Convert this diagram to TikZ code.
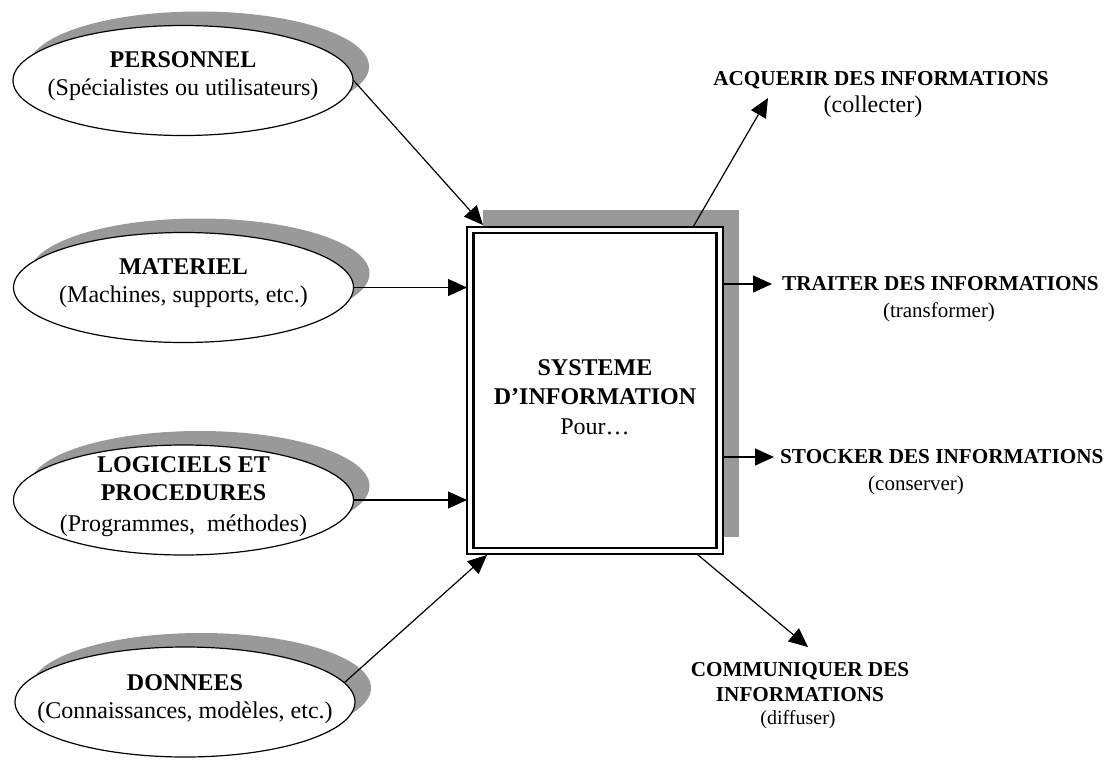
\documentclass[tikz,border=0pt]{standalone}
\usepackage{fontspec}
\setmainfont{Liberation Serif}
\usetikzlibrary{arrows.meta,shapes.geometric,shadows,calc}

\begin{document}
\begin{tikzpicture}[x=1pt,y=-1pt,
  shadowgray/.style={fill=black!40, opacity=1},
  ressource/.style={ellipse, draw, line width=1.2pt, fill=white,
    minimum width=340pt, minimum height=110pt, inner sep=0pt,
    drop shadow={shadow xshift=16pt, shadow yshift=14pt, shadowgray}},
  restext/.style={align=center, inner sep=0pt, font=\fontsize{24}{28}\selectfont},
  sysbox/.style={rectangle, draw, line width=2pt, fill=white, outer sep=0pt,
    minimum width=256pt, minimum height=327pt,
    drop shadow={shadow xshift=16pt, shadow yshift=17pt, shadowgray}},
  arr/.style={line width=1.2pt, -{Triangle[length=19pt,width=17pt]}},
  ttl/.style={inner sep=0pt, font=\fontsize{21.2}{25}\selectfont\bfseries},
  sub/.style={inner sep=0pt, font=\fontsize{#1}{26}\selectfont},
  sub/.default=24]

\fill[white] (0,0) rectangle (1112,761);
\useasboundingbox (0,0) rectangle (1112,761);

% resources on the left
\node[ressource] (pers) at (183,80.5) {};
\node[restext] (perstxt) at (183,76)
  {\textbf{PERSONNEL}\\(Spécialistes ou utilisateurs)};
\node[ressource] (mat) at (183.5,287.5) {};
\node[restext] (mattxt) at (183.5,283)
  {\textbf{MATERIEL}\\(Machines, supports, etc.)};
\node[ressource] (log) at (183.5,500) {};
\node[restext] (logtxt) at (183.5,497)
  {\textbf{LOGICIELS ET}\\\textbf{PROCEDURES}\\[3pt](Programmes,\ \ méthodes)};
\node[ressource] (don) at (185,702) {};
\node[restext] (dontxt) at (185,699.5)
  {\textbf{DONNEES}\\(Connaissances, modèles, etc.)};

% central system box with double frame
\node[sysbox] (sys) at (595,390.5) {};
\draw[line width=2.6pt] ([shift={(6.5pt,-6pt)}]sys.north west)
  rectangle ([shift={(-6.5pt,6pt)}]sys.south east);
\node[align=center, font=\fontsize{24}{29.5}\selectfont] (systxt) at (595,397)
  {\textbf{SYSTEME}\\\textbf{D'INFORMATION}\\Pour\ldots};

% functions on the right
\node[ttl] (acq) at (881,80) {ACQUERIR DES INFORMATIONS};
\node[sub] (acqsub) at (873,107) {(collecter)};
\coordinate (acqtip) at (768,98);

\node[ttl, anchor=west, inner xsep=10pt] (trt) at (772,284) {TRAITER DES INFORMATIONS};
\node[sub=21] (trtsub) at (939,312) {(transformer)};

\node[ttl, anchor=west, inner xsep=6pt] (sto) at (774,457) {STOCKER DES INFORMATIONS};
\node[sub=21] (stosub) at (916,485) {(conserver)};

\node[ttl, align=center] (com) at (800,682.5)
  {COMMUNIQUER DES\\INFORMATIONS};
\node[sub=20] (comsub) at (798,720) {(diffuser)};
\coordinate (comtip) at (808,647);

% inputs
\draw[arr] (pers.east) -- ($(sys.north west)+(16,-2)$);
\draw[arr] (mat.east) -- (mat.east -| sys.west);
\draw[arr] (log.east) -- (log.east -| sys.west);
\draw[arr] (don.7) -- ($(sys.south west)+(20,1)$);

% outputs
\draw[arr] ($(sys.north west)!0.883!(sys.north east)$) -- (acqtip);
\draw[arr] (sys.east |- trt.west) -- (trt.west);
\draw[arr] (sys.east |- sto.west) -- (sto.west);
\draw[arr] ($(sys.south west)!0.898!(sys.south east)$) -- (comtip);
\end{tikzpicture}
\end{document}
